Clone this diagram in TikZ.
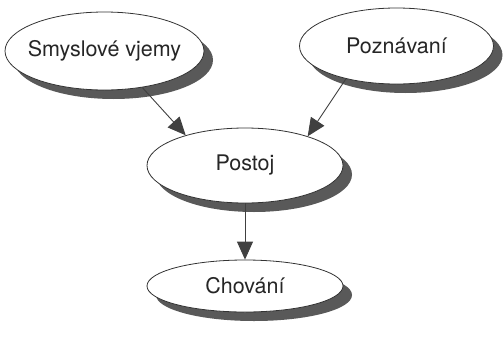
\documentclass[tikz,border=0pt]{standalone}
\usepackage{fontspec}
\setmainfont{TeX Gyre Heros}
\usepackage{tikz}
\usetikzlibrary{shapes.geometric,shadows,arrows.meta}

\tikzset{
  blob/.style={ellipse, draw=black!80, line width=0.8pt, fill=white, text=black!85,
    inner xsep=-10pt, inner ysep=0pt,
    font=\fontsize{21.5}{24}\selectfont,
    drop shadow={shadow xshift=9pt, shadow yshift=-9pt, fill=black!65, opacity=1}},
  feed/.style={draw=black!75, line width=0.9pt, -{Triangle[length=18pt,width=16pt]}}
}

\begin{document}
\begin{tikzpicture}
    \useasboundingbox (0pt,0pt) rectangle (503pt,-351pt);
    \node[blob, minimum width=199pt, minimum height=78pt] (senses) at (104.5pt, -51pt)  {Smyslové vjemy};
    \node[blob, minimum width=194pt, minimum height=76pt] (cognit) at (396.5pt, -46pt)  {Poznávaní};
    \node[blob, minimum width=196pt, minimum height=75pt] (attit)  at (245pt, -165.5pt) {Postoj};
    \node[blob, minimum width=196pt, minimum height=52pt] (behav)  at (245pt, -286pt)   {Chování};
    \draw[feed] (senses.-44) -- (attit.153);
    \draw[feed] (cognit.213) -- (attit.25);
    \draw[feed] (attit.south) -- (behav.north);
\end{tikzpicture}
\end{document}
